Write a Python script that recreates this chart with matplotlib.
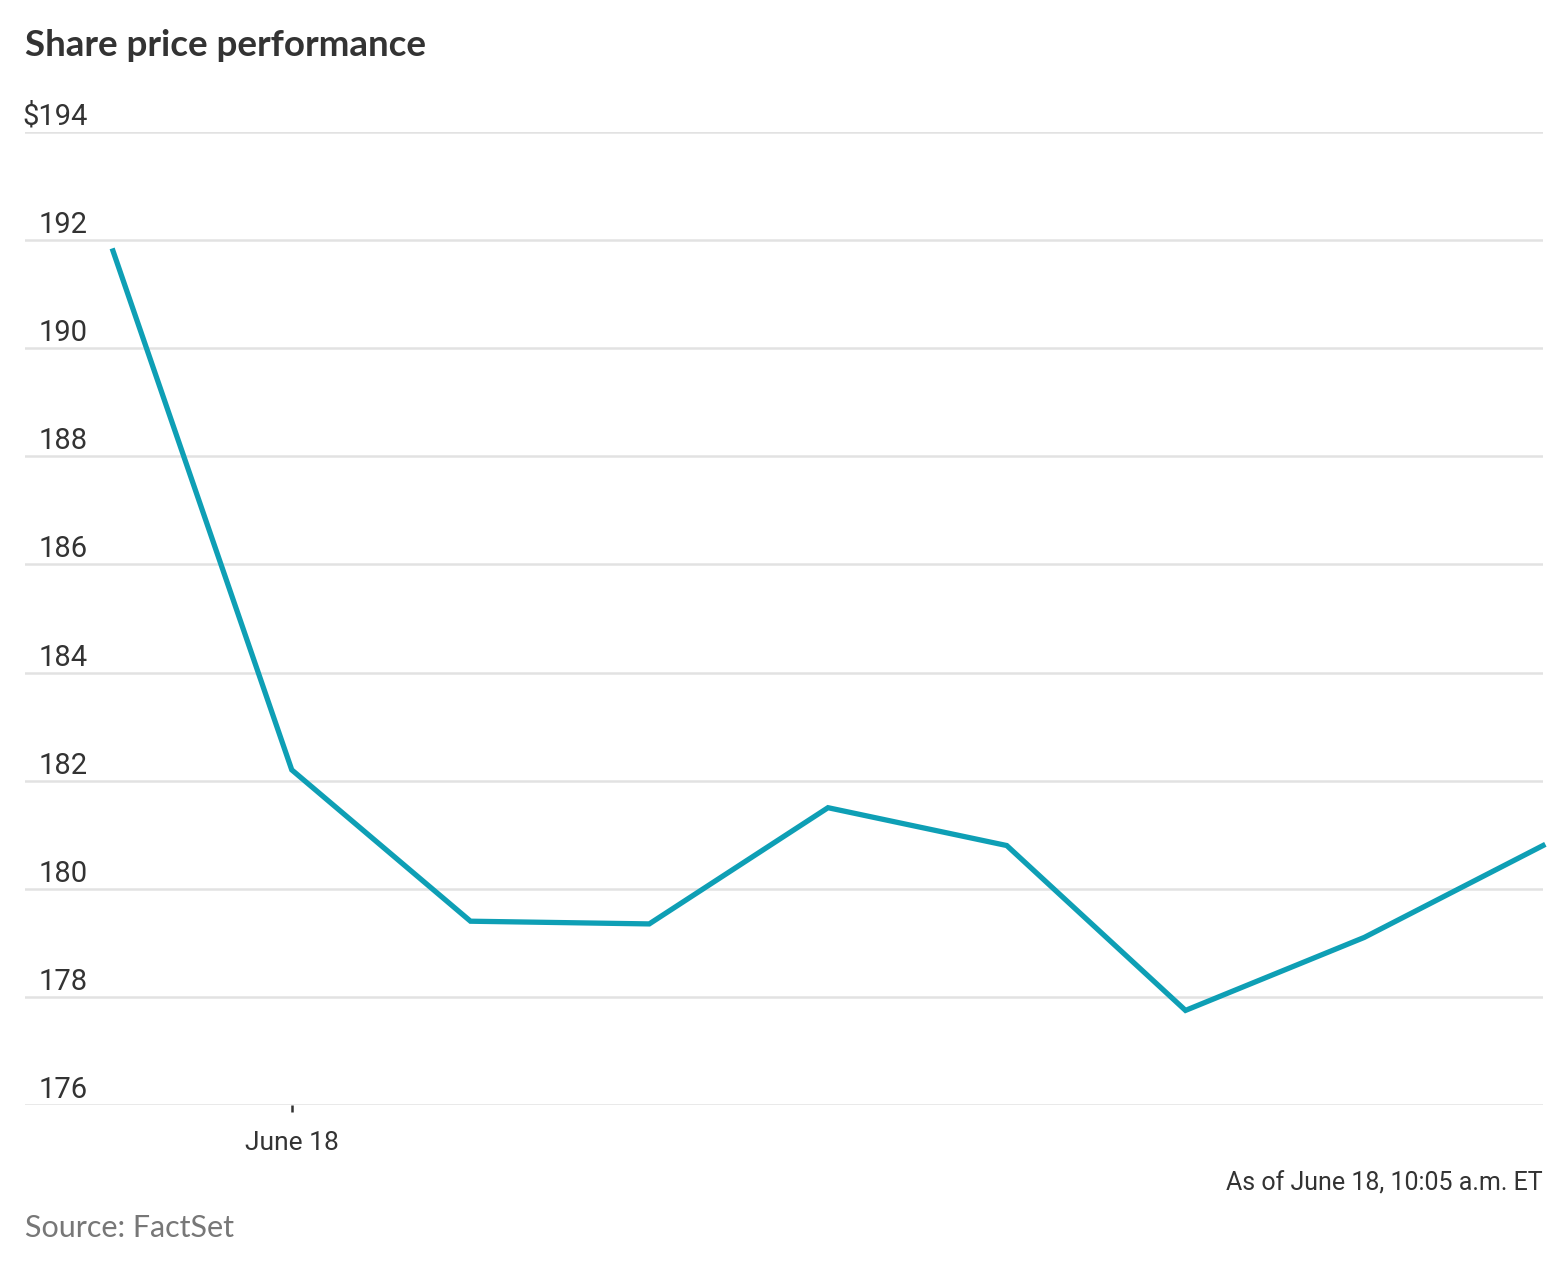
import matplotlib
matplotlib.use("Agg")
import matplotlib.pyplot as plt
import numpy as np

# data: previous close, then 5-minute steps from 9:30 to 10:05
times = ["prev", "9:30", "9:35", "9:40", "9:45", "9:50", "9:55", "10:00", "10:05"]
prices = [191.8, 182.2, 179.4, 179.35, 181.5, 180.8, 177.75, 179.1, 180.8]
y_ticks = [176, 178, 180, 182, 184, 186, 188, 190, 192, 194]
x_tick_pos = [1]
x_tick_labels = ["June 18"]

W, H = 1568, 1265
narrow = ["Roboto", "DejaVu Sans"]
fig = plt.figure(figsize=(W / 100, H / 100), dpi=100)
left, right, top, bottom = 25, 1543, 132, 1105
ax = fig.add_axes([left / W, 1 - bottom / H, (right - left) / W, (bottom - top) / H])

x = np.arange(len(prices))
ax.plot(x, prices, color="#0e9fb5", lw=3.8, solid_joinstyle="miter", clip_on=False, zorder=3)

ax.set_xlim(-88 / 178.75, 8)
ax.set_ylim(176, 194)
for v in y_ticks:
    ax.axhline(v, color="#e2e2e2", lw=1.8, zorder=1)
    lab = "$%d" % v if v == 194 else str(v)
    ax.text((88 - left) / (right - left), v + 0.13, lab,
            transform=ax.get_yaxis_transform(), ha="right", va="baseline",
            fontsize=21, color="#333333", family=narrow)

for s in ax.spines.values():
    s.set_visible(False)
ax.set_yticks([])
ax.set_xticks(x_tick_pos)
ax.set_xticklabels(x_tick_labels, family=narrow, fontsize=19, color="#333333")
ax.tick_params(axis="x", length=5, width=1.8, color="#333333", pad=14)

fig.text(left / W, 1 - 45 / H, "Share price performance", fontsize=26.5, fontweight="bold",
         color="#333333", va="center", ha="left", family=["Lato", "DejaVu Sans"])
fig.text(right / W, 1 - 1184 / H, "As of June 18, 10:05 a.m. ET", fontsize=18,
         color="#333333", va="center", ha="right", family=narrow)
fig.text(left / W, 1 - 1228 / H, "Source: FactSet", fontsize=22,
         color="#777777", va="center", ha="left", family=["Lato", "DejaVu Sans"])

fig.savefig("out.png", dpi=100, facecolor="white")
